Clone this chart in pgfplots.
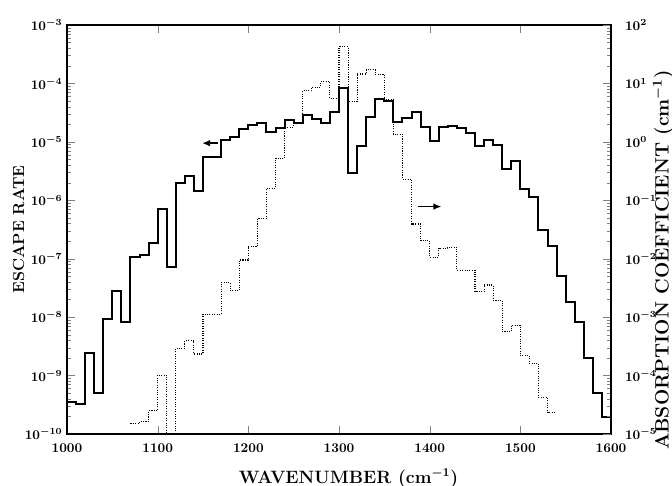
\documentclass[border=0pt]{standalone}
\usepackage{pgfplots}
\pgfplotsset{compat=1.18}
\usetikzlibrary{arrows.meta}
\begin{document}
\begin{tikzpicture}
\begin{axis}[name=ax,
  scale only axis, width=408pt, height=306.75pt,
  xmin=1000, xmax=1600,
  ymode=log,
  ymin=1e-10, ymax=1e-3,
  tick align=inside,
  major tick length=6pt, minor tick length=3pt,
  axis line style={line width=1pt},
  tick label style={font=\boldmath},
  xticklabel style={yshift=-4pt},
  xticklabel={\pgfmathprintnumber[fixed,1000 sep={}]{\tick}},
  xtick={1000,1100,...,1600},
  xtick pos=both, ytick pos=left,
  ytick={1e-10,1e-9,1e-8,1e-7,1e-6,1e-5,1e-4,1e-3},
  xlabel={WAVENUMBER (cm$^{-1}$)},
  xlabel style={font=\fontsize{13.4}{16}\selectfont\bfseries\boldmath,
    at={(axis description cs:0.5175,-0.1198)}, anchor=base},
  clip=false,
]
\begin{scope}
\clip (axis description cs:0,0) rectangle (axis description cs:1,1);
\addplot[const plot, black, line width=1.5pt] coordinates {
(1000,3.6e-10) (1010,3.3e-10) (1020,2.4e-9) (1030,5.0e-10) (1040,9.4e-9)
(1050,2.8e-8) (1060,8.4e-9) (1070,1.08e-7) (1080,1.17e-7) (1090,1.84e-7)
(1100,7.1e-7) (1110,7.1e-8) (1120,1.95e-6) (1130,2.6e-6) (1140,1.46e-6)
(1150,5.6e-6) (1160,5.6e-6) (1170,1.08e-5) (1180,1.22e-5) (1190,1.68e-5)
(1200,1.94e-5) (1210,2.08e-5) (1220,1.46e-5) (1230,1.75e-5) (1240,2.37e-5)
(1250,2.13e-5) (1260,2.88e-5) (1270,2.46e-5) (1280,2.13e-5) (1290,3.2e-5)
(1300,8.3e-5) (1310,2.9e-6) (1320,8.6e-6) (1330,2.7e-5) (1340,5.4e-5)
(1350,5.1e-5) (1360,2.16e-5) (1370,2.6e-5) (1380,3.2e-5) (1390,1.77e-5)
(1400,1.05e-5) (1410,1.82e-5) (1420,1.87e-5) (1430,1.71e-5) (1440,1.44e-5)
(1450,8.6e-6) (1460,1.08e-5) (1470,8.8e-6) (1480,3.43e-6) (1490,4.65e-6)
(1500,1.54e-6) (1510,1.15e-6) (1520,3.1e-7) (1530,1.67e-7) (1540,5.1e-8)
(1550,1.84e-8) (1560,8.4e-9) (1570,2.0e-9) (1580,5.0e-10) (1590,1.93e-10)
(1600,1.93e-10)
};
\end{scope}
\draw[-{Latex[length=6pt,width=5pt]}, line width=1.2pt] (axis cs:1166,9.5e-6) -- (axis cs:1149,9.5e-6);
\draw[-{Latex[length=6pt,width=5pt]}, line width=1.2pt] (axis cs:1387,7.8e-7) -- (axis cs:1413,7.8e-7);
\node[rotate=90, anchor=base, font=\fontsize{12}{14}\selectfont\bfseries]
  at (axis description cs:-0.079,0.5) {ESCAPE RATE};
\end{axis}
\begin{axis}[
  scale only axis, width=408pt, height=306.75pt,
  xmin=1000, xmax=1600,
  ymode=log,
  ymin=1e-5, ymax=1e2,
  tick align=inside,
  major tick length=6pt, minor tick length=3pt,
  axis line style={line width=1pt},
  tick label style={font=\boldmath},
  yticklabel style={xshift=7pt},
  axis x line=none,
  axis y line*=right,
  ytick={1e-5,1e-4,1e-3,1e-2,1e-1,1,1e1,1e2},
  ylabel={ABSORPTION COEFFICIENT (cm$^{-1}$)},
  ylabel style={font=\fontsize{14.5}{17}\selectfont\bfseries\boldmath,
    at={(axis description cs:1.106,0.425)}, anchor=base},
]
\addplot[const plot, black, line width=0.8pt, densely dotted] coordinates {
(1070,1.52e-5) (1080,1.63e-5) (1090,2.5e-5) (1100,1.02e-4) (1110,1e-7)
(1120,2.93e-4) (1130,3.95e-4) (1140,2.34e-4) (1150,1.13e-3) (1160,1.13e-3)
(1170,3.9e-3) (1180,2.84e-3) (1190,9.5e-3) (1200,1.61e-2) (1210,4.9e-2)
(1220,0.160) (1230,0.524) (1240,1.77) (1250,2.08) (1260,7.5)
(1270,8.6) (1280,10.7) (1290,5.6) (1300,42.6) (1310,4.86)
(1320,14.5) (1330,17.0) (1340,14.2) (1350,5.2) (1360,1.36)
(1370,0.231) (1380,3.93e-2) (1390,2.03e-2) (1400,1.06e-2) (1410,1.51e-2)
(1420,1.57e-2) (1430,6.4e-3) (1440,6.4e-3) (1450,2.72e-3) (1460,3.55e-3)
(1470,1.96e-3) (1480,5.6e-4) (1490,7.3e-4) (1500,2.19e-4) (1510,1.62e-4)
(1520,4.25e-5) (1530,2.32e-5) (1540,2.32e-5)
};
\end{axis}
\pgfresetboundingbox
\path[use as bounding box] ([shift={(-50.25pt,-38.25pt)}]ax.south west) rectangle ([shift={(45.75pt,18.75pt)}]ax.north east);
\end{tikzpicture}
\end{document}
